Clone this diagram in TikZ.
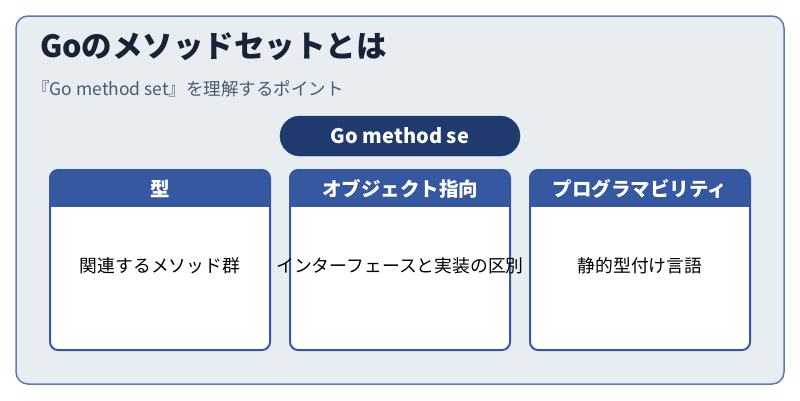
\documentclass[tikz,border=0pt]{standalone}
\usepackage{fontspec}
\setmainfont{Noto Sans CJK JP}
\definecolor{bgc}{HTML}{E8EDF2}
\definecolor{bord}{HTML}{5B7BB0}
\definecolor{navy}{HTML}{1A2238}
\definecolor{sub}{HTML}{4A5A70}
\definecolor{pill}{HTML}{1F3A6E}
\definecolor{hdr}{HTML}{3558A0}
\tikzset{
  cardtxt/.style={font=\fontsize{17.8}{20}\selectfont, text=black},
  hdrtxt/.style={font=\bfseries\fontsize{19.5}{22}\selectfont, text=white},
}
\newcommand{\mycard}[4]{%
  \begin{scope}
    \clip[rounded corners=8pt] (#1,170) rectangle (#1+220,350);
    \fill[white] (#1,170) rectangle (#1+220,350);
    \fill[hdr] (#1,170) rectangle (#1+220,207);
  \end{scope}
  \draw[hdr, line width=2pt, rounded corners=8pt] (#1,170) rectangle (#1+220,350);
  \node[hdrtxt] (#4h) at (#1+110,188.5) {#2};
  \node[cardtxt] (#4b) at (#1+110,266) {#3};
}
\begin{document}
\begin{tikzpicture}[x=1pt,y=-1pt]
\useasboundingbox (0,0) rectangle (800,400);
\fill[white] (0,0) rectangle (800,400);
\draw[bord, fill=bgc, line width=1.5pt, rounded corners=12pt] (16,16) rectangle (784,384);
\node[anchor=west, inner sep=0pt, text=navy, font=\bfseries\fontsize{30.5}{34}\selectfont] (title) at (40,47) {Goのメソッドセットとは};
\node[anchor=west, inner sep=0pt, text=sub, font=\fontsize{17.5}{20}\selectfont] (subt) at (32,89) {『Go method set』を理解するポイント};
\draw[pill, fill=pill, rounded corners=20pt] (280,116) rectangle (520,156);
\node[text=white, font=\bfseries\fontsize{20}{22}\selectfont] (pl) at (400,136) {Go method se};
\mycard{50}{型}{関連するメソッド群}{a}
\mycard{290}{オブジェクト指向}{インターフェースと実装の区別}{b}
\mycard{530}{プログラマビリティ}{静的型付け言語}{c}
\end{tikzpicture}
\end{document}
